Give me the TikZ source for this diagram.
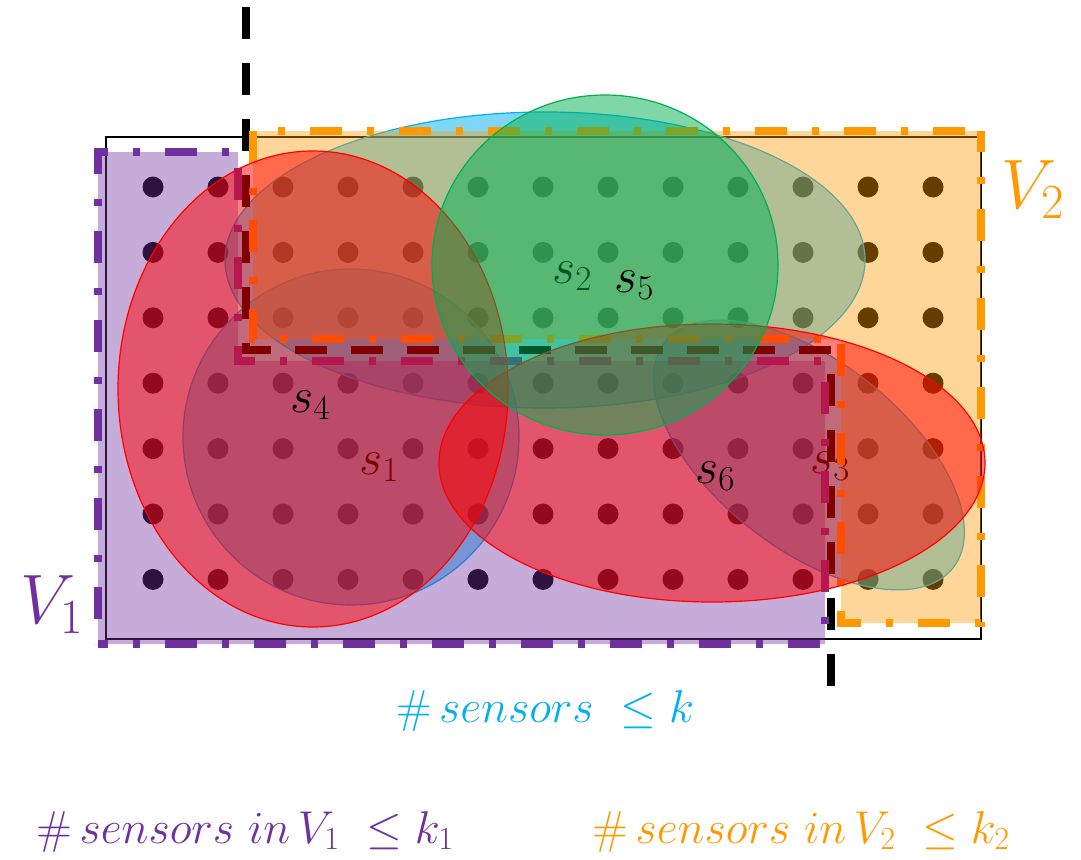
\RequirePackage{fix-cm}
\documentclass[tikz,border=0pt]{standalone}
\usepackage{amssymb, amsmath}
\usepackage{tikz}
\usetikzlibrary{calc}

\definecolor{vpurple}{RGB}{112,48,160}
\definecolor{vorange}{RGB}{255,153,0}
\definecolor{scyan}{RGB}{0,176,240}
\definecolor{sgreen}{RGB}{0,176,80}

\tikzset{
  bluesensor/.style={draw=scyan, line width=1.2pt, fill=scyan, fill opacity=0.5},
  redsensor/.style={draw=red, line width=1.2pt, fill=red, fill opacity=0.5},
  greensensor/.style={draw=sgreen, line width=1.2pt, fill=sgreen, fill opacity=0.5},
  partborder/.style={line width=8pt, dash pattern=on 32pt off 25pt on 7pt off 25pt},
  cutline/.style={line width=8pt, dash pattern=on 32pt off 24pt},
  slabel/.style={font=\fontsize{50}{60}\selectfont, anchor=base west, inner sep=0pt},
  vlabel/.style={font=\fontsize{70}{84}\selectfont, anchor=base west, inner sep=0pt},
  budget/.style={font=\fontsize{46}{55}\selectfont, anchor=base, inner sep=0pt},
}

\begin{document}
\begin{tikzpicture}[x=1pt, y=-1pt]
\useasboundingbox (0,0) rectangle (1081,859);

% field and sensing points
\draw[line width=2pt] (106,137) rectangle (981,639);
\foreach \i in {0,...,12}
  \foreach \j in {0,...,6}
    \fill ({153+65*\i},{187+65.4*\j}) circle (10.5);

% sensors of the first kind
\draw[bluesensor] (545,260) ellipse [x radius=320, y radius=148];
\draw[bluesensor] (351,437) circle (168);
\draw[bluesensor, rotate around={-38:(809,455)}] (809,455) ellipse [x radius=183, y radius=94];

% the two parts
\fill[vpurple, opacity=0.4] (98,644) -- (825,644) -- (825,361) -- (238,361) -- (238,152) -- (98,152) -- cycle;
\fill[vorange, opacity=0.4] (981,131) -- (981,623) -- (841,623) -- (841,339) -- (253,339) -- (253,131) -- cycle;

\node[slabel] (s1) at (359,474) {$s_1$};
\node[slabel] (s2) at (552,283) {$s_2$};
\node[slabel] (s3) at (810,473) {$s_3$};

\draw[cutline] (246,7) -- (246,350) -- (831,350) -- (831,687);
\draw[partborder, vpurple, dash phase=22pt] (98,644) -- (825,644) -- (825,361) -- (238,361) -- (238,152) -- (98,152) -- cycle;
\draw[partborder, vorange, dash phase=11pt] (981,131) -- (981,623) -- (841,623) -- (841,339) -- (253,339) -- (253,131) -- cycle;

% sensors of the second kind
\draw[redsensor] (313,389) ellipse [x radius=195, y radius=238];
\draw[redsensor] (712,463) ellipse [x radius=273, y radius=139];
\draw[greensensor] (605,265) ellipse [x radius=173, y radius=170];

\node[slabel] (s4) at (290,412) {$s_4$};
\node[slabel] (s5) at (614,292) {$s_5$};
\node[slabel] (s6) at (695,483) {$s_6$};

\node[vlabel, vpurple] (v1) at (20,623) {$V_1$};
\node[vlabel, vorange] (v2) at (1001,208) {$V_2$};

\node[budget, scyan] (total) at (545,722) {$\#\,sensors\ \leq k$};
\node[budget, vpurple] (part1) at (245,843) {$\#\,sensors\ in\,V_1\ \leq k_1$};
\node[budget, vorange] (part2) at (801,843) {$\#\,sensors\ in\,V_2\ \leq k_2$};
\end{tikzpicture}
\end{document}
